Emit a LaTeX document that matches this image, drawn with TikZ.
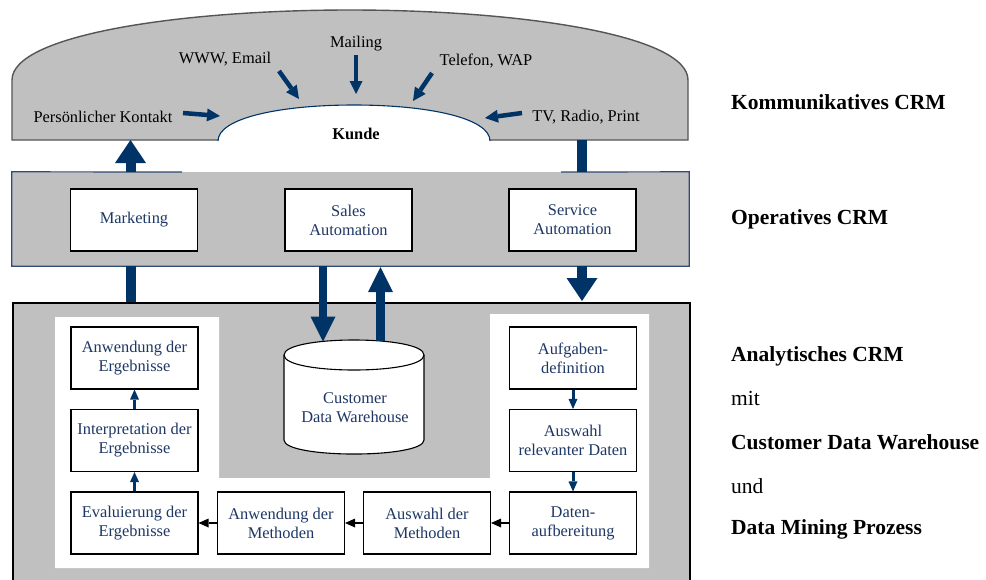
\documentclass[tikz,border=0pt]{standalone}
\usepackage{fontspec}
\setmainfont{Liberation Serif}
\usetikzlibrary{arrows.meta,calc}
\definecolor{bandgray}{RGB}{192,192,192}
\definecolor{navy}{RGB}{0,51,102}
\definecolor{txtblue}{RGB}{30,55,100}
\definecolor{domeline}{RGB}{85,85,85}
\definecolor{opline}{RGB}{45,75,115}
\begin{document}
\begin{tikzpicture}[x=1pt,y=-1pt,
  box/.style={draw=black, line width=1.1pt, fill=white, minimum width=127pt, minimum height=62pt,
    inner sep=0pt, align=center, text=txtblue, font=\fontsize{16.4}{19}\selectfont},
  lbl/.style={inner sep=0pt, font=\fontsize{16.4}{19}\selectfont},
  side/.style={anchor=west, inner sep=0pt, font=\fontsize{21.5}{25}\selectfont},
  shaft/.style={draw=navy, line width=10pt},
  bigarrow/.style={draw=navy, line width=10pt, -{Triangle[width=31pt,length=23pt,line width=0pt]}},
  midarrow/.style={draw=navy, line width=8.5pt, -{Triangle[width=25pt,length=25pt,line width=0pt]}},
  smallarrow/.style={draw=navy, line width=4.5pt, -{Triangle[width=13pt,length=13pt,line width=0pt]}},
  tinyarrow/.style={draw=navy, line width=3pt, -{Triangle[width=9pt,length=10pt,line width=0pt]}},
  harrow/.style={draw=black, line width=2.5pt, -{Triangle[width=9pt,length=10pt,line width=0pt]}}]
\useasboundingbox (0,0) rectangle (986,579);
\clip (0,0) rectangle (986,579);

% ---- Kommunikatives CRM (dome) ----
\path[fill=bandgray] (12,140) -- (12,80) .. controls (12,35) and (180,10) .. (350,10)
  .. controls (520,10) and (688,35) .. (688,80) -- (688,140) -- cycle;
\draw[domeline, line width=1.4pt] (218,140) -- (12,140) -- (12,80) .. controls (12,35) and (180,10) .. (350,10)
  .. controls (520,10) and (688,35) .. (688,80) -- (688,140) -- (490,140);
\draw[navy, line width=1.1pt, fill=white] (218,141) .. controls (218,118) and (280,105) .. (354,105)
  .. controls (428,105) and (490,118) .. (490,141);
\coordinate (domeb) at (350,140);

\node[lbl, font=\fontsize{16.4}{19}\selectfont\bfseries] (kunde) at (356,134) {Kunde};
\node[lbl] (pk) at (103,117) {Persönlicher Kontakt};
\node[lbl] (www) at (225,59) {WWW, Email};
\node[lbl] (ml) at (356,44) {Mailing};
\node[lbl] (tw) at (486,61) {Telefon, WAP};
\node[lbl] (tv) at (586,117) {TV, Radio, Print};

\coordinate (pk-a) at (183,113); \coordinate (pk-b) at (220,116);
\coordinate (tv-a) at (522,113); \coordinate (tv-b) at (485,118);
\coordinate (www-a) at (279,71); \coordinate (www-b) at (299,99);
\coordinate (ml-a) at (356,55); \coordinate (ml-b) at (356,94);
\coordinate (tw-a) at (432,73); \coordinate (tw-b) at (413,101);
\draw[smallarrow] (pk-a) -- (pk-b);
\draw[smallarrow] (tv-a) -- (tv-b);
\draw[smallarrow] (www-a) -- (www-b);
\draw[smallarrow] (ml-a) -- (ml-b);
\draw[smallarrow] (tw-a) -- (tw-b);

% ---- Operatives CRM ----
\node[fill=bandgray, minimum width=677pt, minimum height=94pt, inner sep=0pt] (op) at (350.5,219) {};
\draw[opline, line width=1.2pt] (182,172) -- (op.north west) -- (op.south west) -- (op.south east)
  -- (op.north east) -- (561,172);

% ---- Analytisches CRM ----
\node[draw=black, line width=1.5pt, fill=bandgray, minimum width=677pt, minimum height=300pt,
  inner sep=0pt, anchor=north west] (ana) at (12,302) {};
\path[fill=white] (55,317) -- (219,317) -- (219,478) -- (490,478) -- (490,314) -- (649,314)
  -- (649,568) -- (55,568) -- cycle;

% cylinder
\draw[black, line width=1.1pt, fill=white] (284,355) .. controls (284,335) and (424,335) .. (424,355)
  -- (424,440) .. controls (424,458.7) and (284,458.7) .. (284,440) -- cycle;
\draw[black, line width=1.1pt] (284,355) .. controls (284,375) and (424,375) .. (424,355);
\node[lbl, align=center, text=txtblue] (dw) at (355,408) {Customer\\Data Warehouse};
\coordinate (dwin) at (323,341.5);
\coordinate (dwout) at (380.5,341);

% ---- big arrows ----
\coordinate (xl) at (130.5,0);
\coordinate (xr) at (582,0);
\coordinate (xd) at (323,0);
\coordinate (xu) at (380.5,0);
\draw[shaft] (ana.north -| xl) -- (op.south -| xl);
\draw[bigarrow] (op.north -| xl) -- (domeb -| xl);
\draw[shaft] (domeb -| xr) -- (op.north -| xr);
\draw[bigarrow] (op.south -| xr) -- ($(ana.north -| xr)+(0,-1)$);
\draw[midarrow] (op.south -| xd) -- (dwin);
\draw[midarrow] (dwout) -- ($(op.south -| xu)+(0,1)$);

% ---- boxes ----
\node[box] (mk) at (134,220) {Marketing};
\node[box] (sa) at (348.5,220) {Sales\\Automation};
\node[box] (sv) at (572.5,220) {Service\\Automation};

\node[box] (ae) at (134.5,358) {Anwendung der\\Ergebnisse};
\node[box] (ie) at (134.5,440.5) {Interpretation der\\Ergebnisse};
\node[box] (ee) at (134.5,523) {Evaluierung der\\Ergebnisse};
\node[box] (am) at (281,523) {Anwendung der\\Methoden};
\node[box] (wm) at (427,523) {Auswahl der\\Methoden};
\node[box] (da) at (573,523) {Daten-\\aufbereitung};
\node[box] (ad) at (573,358) {Aufgaben-\\definition};
\node[box] (rd) at (573,440.5) {Auswahl\\relevanter Daten};

\draw[tinyarrow] (ie) -- (ae);
\draw[tinyarrow] (ee) -- (ie);
\draw[tinyarrow] (ad) -- (rd);
\draw[tinyarrow] (rd) -- (da);
\draw[harrow] (da) -- (wm);
\draw[harrow] (wm) -- (am);
\draw[harrow] (am) -- (ee);

% ---- side labels ----
\node[side] (s1) at (731,102) {\bfseries Kommunikatives CRM};
\node[side] (s2) at (731,219) {\bfseries Operatives CRM};
\node[side] (s3) at (731,356) {\bfseries Analytisches CRM};
\node[side] (s4) at (731,398) {mit};
\node[side] (s5) at (731,442) {\bfseries Customer Data Warehouse};
\node[side] (s6) at (731,486) {und};
\node[side] (s7) at (731,529) {\bfseries Data Mining Prozess};
\end{tikzpicture}
\end{document}
